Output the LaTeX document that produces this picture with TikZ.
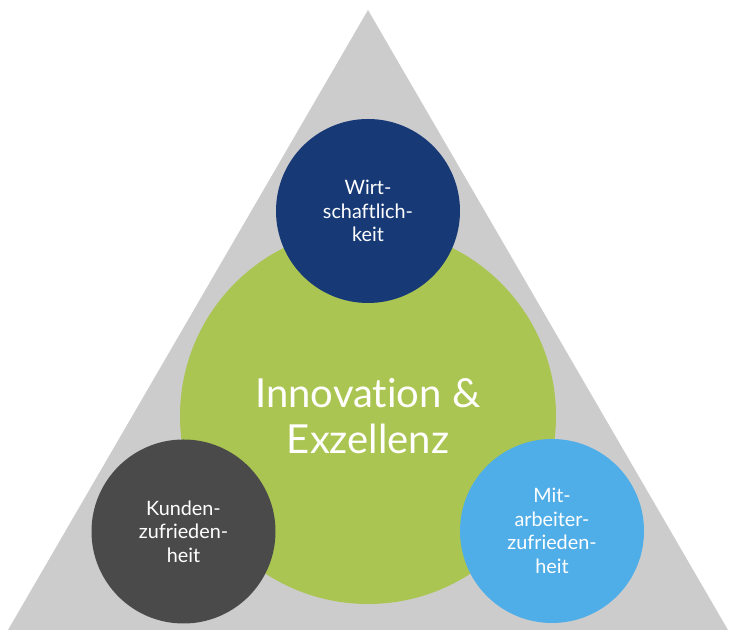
\documentclass[tikz,border=0pt]{standalone}
\usepackage{fontspec}
\setmainfont[Ligatures=NoCommon]{Lato}
\usepackage{xcolor}
\usepackage{tikz}

\definecolor{triGray}{HTML}{CCCCCC}
\definecolor{innoGreen}{HTML}{ABC552}
\definecolor{wirtBlue}{HTML}{173A77}
\definecolor{kundeGray}{HTML}{4A4A4A}
\definecolor{mitBlue}{HTML}{4FADE8}

\begin{document}
\begin{tikzpicture}[x=1pt, y=1pt,
        pillar/.style={circle, inner sep=0pt, minimum size=184pt, text=white, align=center,
            font=\fontsize{19.8}{23.5}\selectfont},
        core/.style={circle, inner sep=0pt, minimum size=376pt, text=white, align=center,
            font=\fontsize{40}{46}\selectfont}]
        \useasboundingbox (0,0) rectangle (739,636);
        % triangle in the background
        \fill[triGray] (8,6) coordinate (bl) -- (728,6) coordinate (br) -- (368,626) coordinate (top) -- cycle;

        % centre and the three pillars
        \node[core, fill=innoGreen] (inno) at (368,220) {Innovation \&\\Exzellenz};
        \node[pillar, fill=wirtBlue] (wirt) at (368,425) {Wirt-\\schaftlich-\\keit};
        \node[pillar, fill=kundeGray] (kunde) at (183.5,104.5) {Kunden-\\zufrieden-\\heit};
        \node[pillar, fill=mitBlue] (mit) at (552,105) {Mit-\\arbeiter-\\zufrieden-\\heit};
    \end{tikzpicture}
\end{document}
